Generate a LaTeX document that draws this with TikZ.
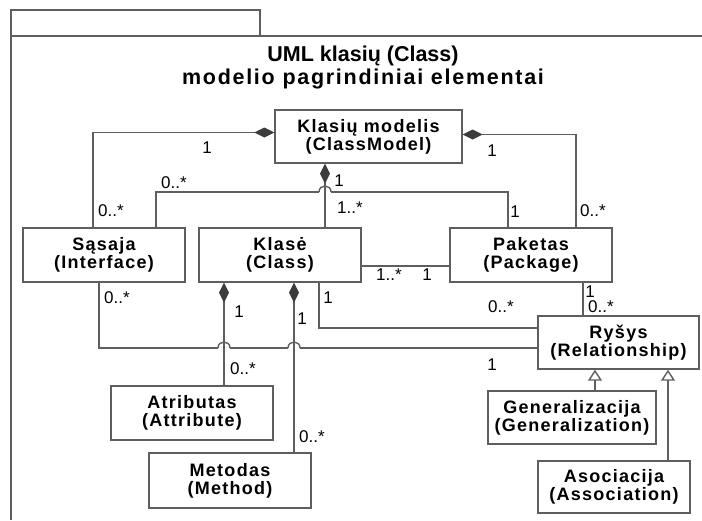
\documentclass[tikz,border=0pt]{standalone}
\usepackage{fontspec}
\setmainfont{Liberation Sans}
\newfontfamily\boxfont[LetterSpace=7]{Liberation Sans}
\newfontfamily\widefont[LetterSpace=8]{Liberation Sans}
\usetikzlibrary{arrows.meta}
\definecolor{umlgray}{HTML}{5E5E5E}
\definecolor{umldark}{HTML}{3C3C3C}
\begin{document}
\begin{tikzpicture}[x=1pt,y=-1pt,
    cls/.style={draw=umlgray, line width=1.4pt, fill=white, inner sep=0pt, align=center,
      font=\boxfont\bfseries\fontsize{18}{18}\selectfont},
    line/.style={draw=umlgray, line width=1.4pt},
    dia/.style={line, {Diamond[length=20pt,width=10pt,fill=umldark,color=umldark]}-},
    inh/.style={line, -{Triangle[open,length=11pt,width=14pt,fill=white]}},
    mult/.style={inner sep=0pt, font=\fontsize{17}{18}\selectfont}]
      \useasboundingbox (0,0) rectangle (702,520);
      % frame and tab
      \draw[line] (702,36) -- (11,36) -- (11,520);
      \draw[line] (11,36) |- (260,10) -- (260,36);
      \node[align=center, inner sep=0pt, font=\bfseries\fontsize{21.5}{23}\selectfont] (title) at (363,67)
        {UML klasių (Class)\\{\widefont modelio pagrindiniai elementai}};
      % classes
      \node[cls, minimum width=187pt, minimum height=53pt] (cm) at (368.5,136.5) {Klasių modelis\\(ClassModel)};
      \node[cls, minimum width=162pt, minimum height=54pt] (sas) at (104,255) {Sąsaja\\(Interface)};
      \node[cls, minimum width=162pt, minimum height=54pt] (kls) at (280,255) {Klasė\\(Class)};
      \node[cls, minimum width=162pt, minimum height=54pt] (pak) at (531,255) {Paketas\\(Package)};
      \node[cls, minimum width=161pt, minimum height=53pt] (rys) at (618.5,342.5) {Ryšys\\(Relationship)};
      \node[cls, minimum width=168pt, minimum height=53pt] (gen) at (572,417.5) {Generalizacija\\(Generalization)};
      \node[cls, minimum width=152pt, minimum height=52pt] (aso) at (614,487) {Asociacija\\(Association)};
      \node[cls, minimum width=162pt, minimum height=54pt] (atr) at (192,413) {Atributas\\(Attribute)};
      \node[cls, minimum width=162pt, minimum height=55pt] (met) at (230,480.5) {Metodas\\(Method)};
      % connectors
      \draw[dia] ([yshift=4pt]cm.west) -| ([xshift=-11pt]sas.north);
      \draw[dia] ([yshift=2pt]cm.east) -| ([xshift=45pt]pak.north);
      \draw[dia] ([xshift=-43.5pt]cm.south) -- ([xshift=-43.5pt]cm.south |- kls.north);
      \draw[line] ([xshift=52pt]sas.north) |- (319,192);
      \draw[line] (319,192) .. controls (319,184) and (331,184) .. (331,192);
      \draw[line] (331,192) -| ([xshift=-23pt]pak.north);
      \draw[line] ([yshift=-11pt]kls.east) -- ([yshift=-11pt]kls.east -| pak.west);
      \draw[line] ([xshift=52pt]pak.south) -- ([xshift=52pt]pak.south |- rys.north);
      \draw[line] ([xshift=39pt]kls.south) |- ([yshift=14.5pt]rys.west);
      \draw[line] ([xshift=-5pt]sas.south) |- (218,348);
      \draw[line] (218,348) .. controls (218,340) and (230,340) .. (230,348);
      \draw[line] (230,348) -- (288,348);
      \draw[line] (288,348) .. controls (288,340) and (300,340) .. (300,348);
      \draw[line] (300,348) -- ([yshift=-5.5pt]rys.west);
      \draw[dia] ([xshift=-56pt]kls.south) -- ([xshift=-56pt]kls.south |- atr.north);
      \draw[dia] ([xshift=14pt]kls.south) -- ([xshift=14pt]kls.south |- met.north);
      \draw[inh] ([xshift=23pt]gen.north) -- ([xshift=23pt]gen.north |- rys.south);
      \draw[inh] ([xshift=54pt]aso.north) -- ([xshift=54pt]aso.north |- rys.south);
      % multiplicities
      \node[mult] (m1) at (207,148) {1};
      \node[mult] (m2) at (111,211) {0..*};
      \node[mult] (m3) at (492,151) {1};
      \node[mult] (m4) at (593,211) {0..*};
      \node[mult] (m5) at (339,181) {1};
      \node[mult] (m6) at (350,208) {1..*};
      \node[mult] (m7) at (174,183) {0..*};
      \node[mult] (m8) at (515,212) {1};
      \node[mult] (m9) at (389,275) {1..*};
      \node[mult] (m10) at (427,275) {1};
      \node[mult] (m11) at (590,292) {1};
      \node[mult] (m12) at (601,307) {0..*};
      \node[mult] (m13) at (501,307) {0..*};
      \node[mult] (m14) at (492,365) {1};
      \node[mult] (m15) at (328,298) {1};
      \node[mult] (m16) at (117,298) {0..*};
      \node[mult] (m17) at (239,312) {1};
      \node[mult] (m18) at (302,319) {1};
      \node[mult] (m19) at (243,369) {0..*};
      \node[mult] (m20) at (312,437) {0..*};
    \end{tikzpicture}
\end{document}
